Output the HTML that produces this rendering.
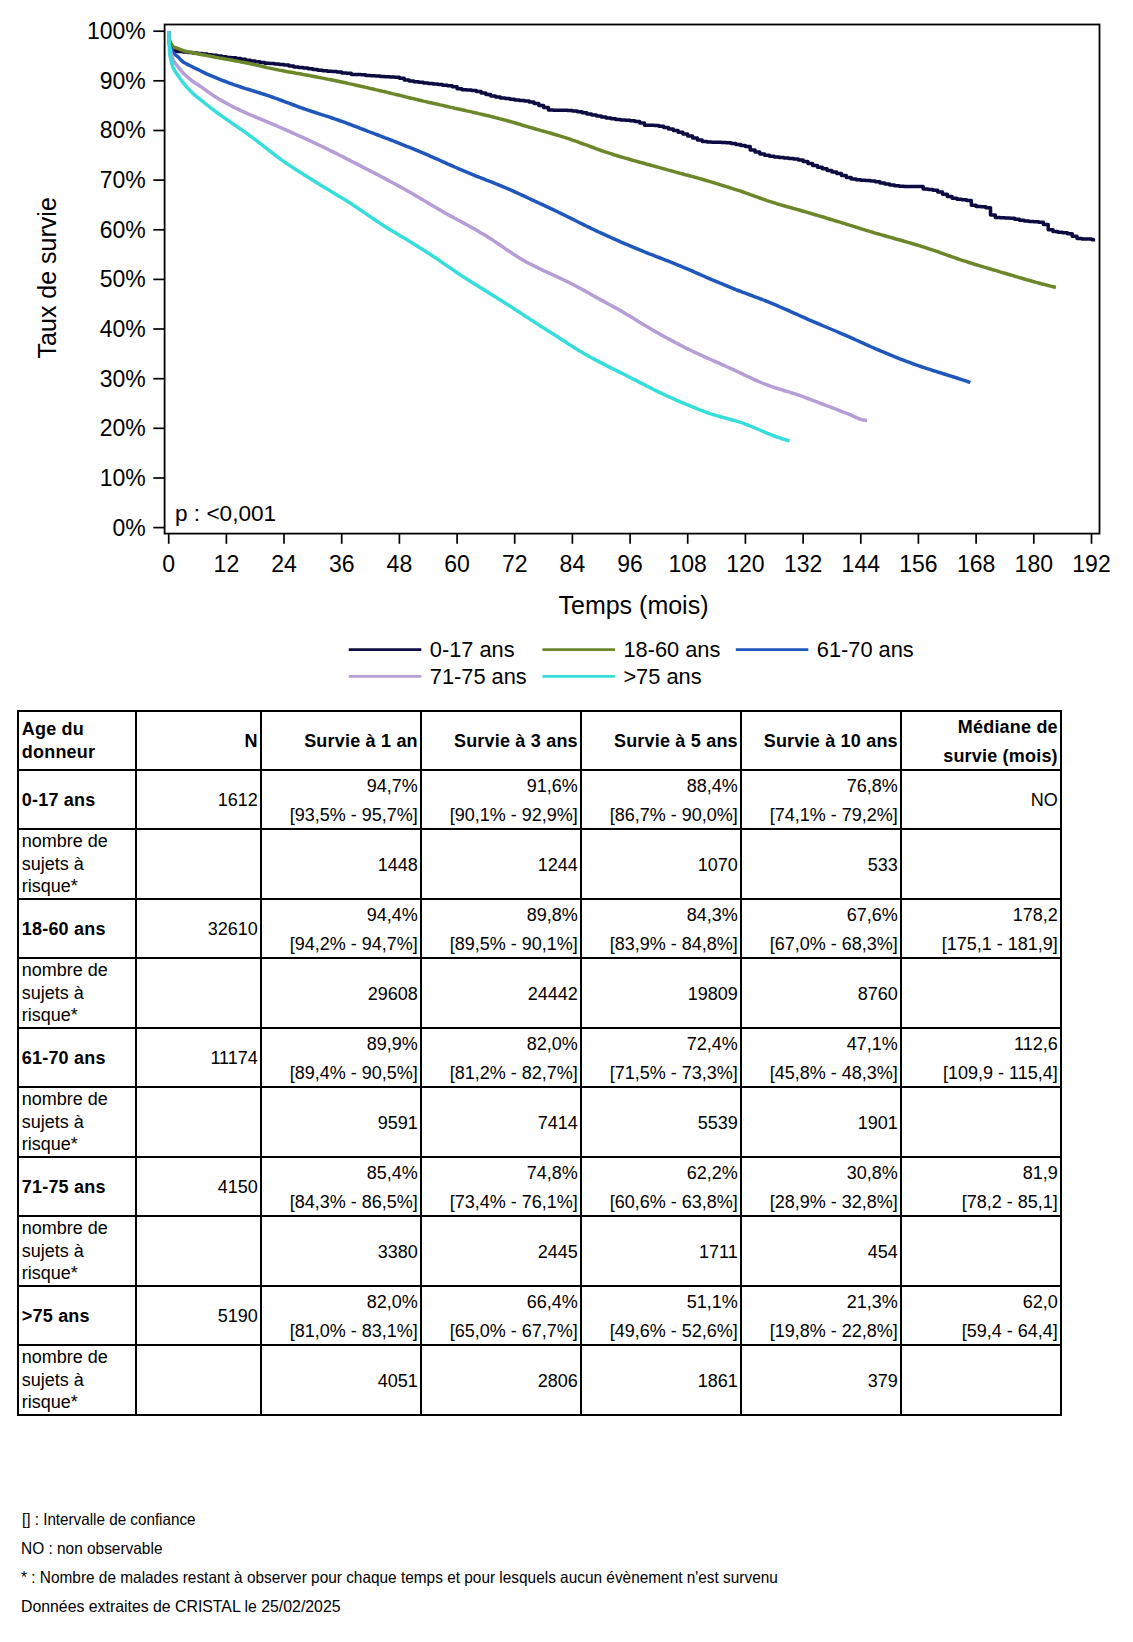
<!DOCTYPE html>
<html lang="fr"><head><meta charset="utf-8"><title>Survie</title>
<style>
*{margin:0;padding:0;box-sizing:border-box}
html,body{width:1133px;height:1642px;background:#fff;overflow:hidden}
body{position:relative;font-family:"Liberation Sans",Arial,Helvetica,sans-serif;color:#000}
.chart{position:absolute;left:0;top:0}
.chart text{font-family:"Liberation Sans",Arial,sans-serif;fill:#000}
.tl{font-size:23px}
.at{font-size:25px}
.lg{font-size:21.8px}
table{position:absolute;left:17px;top:710px;border-collapse:collapse;table-layout:fixed;width:1045px;font-size:18px}
th,td{border:2px solid #000;padding:0 2.2px 0 2.8px;vertical-align:middle;white-space:nowrap;line-height:20px;overflow:visible}
th,.b{font-weight:bold;letter-spacing:0.2px}
.r{text-align:right}
.c0{text-align:left}
.b{font-weight:bold}
tr.hd{height:59px}
tr.dr{height:59px}
tr.rr{height:70px}
.v2{height:57px;display:flex;flex-direction:column;justify-content:center;align-items:flex-end;line-height:29px;position:relative;top:1.5px}
.agel{line-height:23.2px;position:relative;top:0.8px}
td.top{vertical-align:top}
tr.rr td.r{padding-top:2px}
.risk{line-height:22.6px;height:66px}
.notes{position:absolute;left:0;top:0;font-size:16.5px;line-height:19px;color:#000}
.nl{position:absolute;white-space:nowrap;transform-origin:0 0}
</style></head>
<body>
<svg class="chart" width="1133" height="700" viewBox="0 0 1133 700">
<path d="M168.7,31.2L168.9,37.1L169.3,42.1L169.7,45.1L170.1,47.1L170.9,48.3L171.6,49.2L172.5,49.9L173.5,50.4H174.7V50.8H175.9V51.2H177.1V51.4H178.3V51.6H183.1V52.0H187.9V52.5H192.7V53.0H197.5V53.6H202.3V54.1H207.1V54.7H212.0V55.3H216.8V56.0H221.6V56.7H226.4V57.5H231.2V57.7H236.0V58.4H240.8V59.3H245.6V60.2H250.4V61.1H255.2V61.8H260.0V62.5H264.8V63.2H269.6V63.6H274.4V64.1H279.2V64.5H284.0V65.1H288.9V66.1H293.7V67.0H298.5V67.4H303.3V68.0H308.1V68.8H312.9V69.5H317.7V70.2H322.5V70.7H327.3V71.2H332.1V71.6H336.9V72.1H341.7V72.9H346.5V73.2H351.3V74.5H356.1V74.4H360.9V74.8H365.7V75.4H370.6V75.7H375.4V76.1H380.2V76.4H385.0V76.7H389.8V77.0H394.6V77.3H399.4V78.3H404.2V80.1H409.0V81.0H413.8V81.7H418.6V82.3H423.4V82.9H428.2V83.5H433.0V84.0H437.8V84.6H442.6V85.2H447.4V85.8H452.3V86.7H457.1V88.8H461.9V89.7H466.7V90.1H471.5V90.6H476.3V91.6H481.1V93.1H485.9V94.6H490.7V96.1H495.5V97.1H500.3V97.9H505.1V98.6H509.9V99.3H514.7V99.9H519.5V100.4H524.3V101.1H529.1V102.1H534.0V103.6H538.8V105.4H543.6V107.4H548.4V110.0H553.2V110.2H558.0V110.2H562.8V110.3H567.6V110.4H572.4V110.9H577.2V111.7H582.0V112.8H586.8V113.9H591.6V115.0H596.4V116.0H601.2V117.0H606.0V118.0H610.9V118.8H615.7V119.4H620.5V119.9H625.3V120.3H630.1V120.8H634.9V121.5H639.7V122.9H644.5V125.2H649.3V125.3H654.1V125.5H658.9V126.2H663.7V127.5H668.5V129.1H673.3V130.6H678.1V132.3H682.9V134.0H687.7V135.9H692.6V138.1H697.4V140.1H702.2V141.5H707.0V142.0H711.8V142.2H716.6V142.3H721.4V142.4H726.2V142.7H731.0V143.5H735.8V144.5H740.6V145.5H745.4V146.4H750.2V149.9H755.0V152.1H759.8V153.9H764.6V155.3H769.5V156.3H774.3V157.1H779.1V157.6H783.9V158.1H788.7V158.5H793.5V159.0H798.3V159.9H803.1V161.4H807.9V163.4H812.7V165.4H817.5V167.2H822.3V168.8H827.1V170.4H831.9V172.0H836.7V173.6H841.5V175.5H846.3V177.4H851.2V178.9H856.0V179.8H860.8V180.2H865.6V180.6H870.4V181.1H875.2V181.8H880.0V182.9H884.8V184.0H889.6V185.1H894.4V185.8H899.2V186.2H904.0V186.4H908.8V186.5H913.6V186.5H918.4V186.5H923.2V188.9H928.0V189.5H932.9V190.3H937.7V192.1H942.5V194.3H947.3V196.6H952.1V198.3H956.9V199.3H961.7V199.7H966.5V200.4H971.3V205.2H976.1V206.4H980.9V206.8H985.7V207.7H990.5V214.9H995.3V217.6H1000.1V217.8H1004.9V218.0H1009.8V218.3H1014.6V219.2H1019.4V220.2H1024.2V221.0H1029.0V221.5H1033.8V221.8H1038.6V222.3H1043.4V224.6H1048.2V229.8H1053.0V231.5H1057.8V232.2H1062.6V232.8H1067.4V233.7H1072.2V236.3H1077.0V238.6H1081.8V238.9H1086.6V239.0H1091.5V239.4H1093.4V241.6" fill="none" stroke="#0d0b42" stroke-width="3.5" stroke-linejoin="round" stroke-linecap="butt"/>
<path d="M168.7,31.2L169.2,38.1L169.7,40.3L170.1,41.6L170.6,42.7L171.1,43.6L171.6,44.4L172.1,45.3L172.5,46.1L173.0,46.6L173.5,46.9L174.0,47.2L174.5,47.4L174.9,47.5L175.4,47.7L175.9,47.8L176.4,47.9L176.9,48.1L177.4,48.2L177.8,48.4L178.3,48.6L180.7,49.6L183.1,50.5L185.5,51.2L187.9,51.8L190.3,52.3L192.7,52.8L195.1,53.2L197.5,53.7L199.9,54.2L202.3,54.7L204.7,55.1L207.1,55.6L209.6,56.1L212.0,56.5L214.4,57.0L216.8,57.4L219.2,57.9L221.6,58.3L224.0,58.7L226.4,59.2L228.8,59.6L231.2,60.0L233.6,60.5L236.0,60.9L238.4,61.4L240.8,61.9L243.2,62.3L245.6,62.8L248.0,63.3L250.4,63.8L252.8,64.3L255.2,64.9L257.6,65.4L260.0,65.9L262.4,66.5L264.8,67.0L267.2,67.6L269.6,68.1L272.0,68.6L274.4,69.1L276.8,69.6L279.2,70.1L281.6,70.6L284.0,71.0L286.4,71.5L288.9,71.9L291.3,72.3L293.7,72.7L296.1,73.2L298.5,73.6L300.9,74.0L303.3,74.5L305.7,74.9L308.1,75.3L310.5,75.8L312.9,76.2L315.3,76.7L317.7,77.2L320.1,77.6L322.5,78.1L324.9,78.6L327.3,79.1L329.7,79.6L332.1,80.0L334.5,80.5L336.9,81.0L339.3,81.5L341.7,82.0L344.1,82.5L346.5,83.0L348.9,83.6L351.3,84.1L353.7,84.6L356.1,85.2L358.5,85.7L360.9,86.3L363.3,86.8L365.7,87.4L368.1,87.9L370.6,88.5L373.0,89.0L375.4,89.6L377.8,90.1L380.2,90.7L382.6,91.3L385.0,91.8L387.4,92.4L389.8,93.0L392.2,93.6L394.6,94.1L397.0,94.7L399.4,95.3L401.8,95.9L404.2,96.5L406.6,97.1L409.0,97.7L411.4,98.3L413.8,98.8L416.2,99.4L418.6,100.0L421.0,100.5L423.4,101.1L425.8,101.6L428.2,102.2L430.6,102.7L433.0,103.3L435.4,103.8L437.8,104.3L440.2,104.9L442.6,105.4L445.0,106.0L447.4,106.5L449.9,107.1L452.3,107.6L454.7,108.2L457.1,108.7L459.5,109.2L461.9,109.8L464.3,110.3L466.7,110.9L469.1,111.4L471.5,111.9L473.9,112.5L476.3,113.0L478.7,113.6L481.1,114.1L483.5,114.7L485.9,115.3L488.3,115.8L490.7,116.4L493.1,117.0L495.5,117.6L497.9,118.2L500.3,118.9L502.7,119.5L505.1,120.1L507.5,120.8L509.9,121.5L512.3,122.1L514.7,122.8L517.1,123.5L519.5,124.2L521.9,125.0L524.3,125.7L526.7,126.4L529.1,127.1L531.6,127.8L534.0,128.5L536.4,129.2L538.8,129.9L541.2,130.6L543.6,131.3L546.0,131.9L548.4,132.6L550.8,133.3L553.2,134.0L555.6,134.7L558.0,135.4L560.4,136.1L562.8,136.9L565.2,137.6L567.6,138.4L570.0,139.2L572.4,140.1L574.8,140.9L577.2,141.7L579.6,142.6L582.0,143.5L584.4,144.4L586.8,145.2L589.2,146.1L591.6,147.0L594.0,147.9L596.4,148.8L598.8,149.6L601.2,150.5L603.6,151.3L606.0,152.1L608.4,152.9L610.9,153.7L613.3,154.5L615.7,155.3L618.1,156.0L620.5,156.7L622.9,157.4L625.3,158.1L627.7,158.8L630.1,159.5L632.5,160.2L634.9,160.9L637.3,161.5L639.7,162.2L642.1,162.8L644.5,163.5L646.9,164.2L649.3,164.8L651.7,165.5L654.1,166.1L656.5,166.8L658.9,167.4L661.3,168.1L663.7,168.8L666.1,169.4L668.5,170.1L670.9,170.7L673.3,171.4L675.7,172.1L678.1,172.7L680.5,173.4L682.9,174.0L685.3,174.7L687.7,175.3L690.2,176.0L692.6,176.6L695.0,177.3L697.4,177.9L699.8,178.6L702.2,179.3L704.6,180.0L707.0,180.7L709.4,181.4L711.8,182.1L714.2,182.8L716.6,183.6L719.0,184.3L721.4,185.1L723.8,185.8L726.2,186.6L728.6,187.3L731.0,188.1L733.4,188.9L735.8,189.6L738.2,190.4L740.6,191.2L743.0,192.0L745.4,192.9L747.8,193.7L750.2,194.6L752.6,195.4L755.0,196.3L757.4,197.2L759.8,198.0L762.2,198.9L764.6,199.7L767.0,200.6L769.5,201.4L771.9,202.1L774.3,202.9L776.7,203.7L779.1,204.4L781.5,205.1L783.9,205.8L786.3,206.5L788.7,207.1L791.1,207.8L793.5,208.5L795.9,209.1L798.3,209.8L800.7,210.5L803.1,211.2L805.5,211.9L807.9,212.6L810.3,213.3L812.7,214.0L815.1,214.7L817.5,215.4L819.9,216.1L822.3,216.8L824.7,217.5L827.1,218.3L829.5,219.0L831.9,219.7L834.3,220.5L836.7,221.2L839.1,221.9L841.5,222.7L843.9,223.4L846.3,224.2L848.7,224.9L851.2,225.6L853.6,226.4L856.0,227.2L858.4,227.9L860.8,228.7L863.2,229.4L865.6,230.2L868.0,230.9L870.4,231.6L872.8,232.3L875.2,233.1L877.6,233.8L880.0,234.4L882.4,235.1L884.8,235.8L887.2,236.5L889.6,237.1L892.0,237.8L894.4,238.5L896.8,239.2L899.2,239.8L901.6,240.5L904.0,241.2L906.4,241.9L908.8,242.6L911.2,243.3L913.6,244.0L916.0,244.7L918.4,245.4L920.8,246.2L923.2,246.9L925.6,247.7L928.0,248.5L930.5,249.3L932.9,250.1L935.3,250.9L937.7,251.7L940.1,252.6L942.5,253.4L944.9,254.3L947.3,255.1L949.7,256.0L952.1,256.9L954.5,257.7L956.9,258.5L959.3,259.4L961.7,260.2L964.1,260.9L966.5,261.7L968.9,262.5L971.3,263.2L973.7,264.0L976.1,264.7L978.5,265.4L980.9,266.2L983.3,266.9L985.7,267.6L988.1,268.3L990.5,269.0L992.9,269.7L995.3,270.4L997.7,271.1L1000.1,271.9L1002.5,272.6L1004.9,273.3L1007.3,274.0L1009.8,274.7L1012.2,275.4L1014.6,276.2L1017.0,276.9L1019.4,277.6L1021.8,278.3L1024.2,279.0L1026.6,279.7L1029.0,280.3L1031.4,281.0L1033.8,281.7L1036.2,282.4L1038.6,283.0L1041.0,283.7L1043.4,284.3L1045.8,284.9L1048.2,285.5L1050.6,286.1L1053.0,286.7L1055.4,287.3L1055.9,287.4" fill="none" stroke="#6b872a" stroke-width="3.5" stroke-linejoin="round" stroke-linecap="butt"/>
<path d="M168.7,31.2L169.2,40.1L169.7,43.9L170.1,46.1L170.6,47.2L171.1,48.0L171.6,48.8L172.1,50.0L172.5,51.4L173.0,52.3L173.5,53.0L174.0,53.6L174.5,54.0L174.9,54.5L175.4,54.8L175.9,55.2L176.4,55.6L176.9,55.9L177.4,56.3L177.8,56.8L178.3,57.2L180.7,59.9L183.1,61.9L185.5,63.3L187.9,64.6L190.3,65.8L192.7,67.0L195.1,68.2L197.5,69.3L199.9,70.5L202.3,71.7L204.7,72.9L207.1,74.1L209.6,75.2L212.0,76.2L214.4,77.2L216.8,78.2L219.2,79.2L221.6,80.1L224.0,81.0L226.4,81.9L228.8,82.8L231.2,83.7L233.6,84.6L236.0,85.4L238.4,86.2L240.8,87.0L243.2,87.8L245.6,88.6L248.0,89.3L250.4,90.0L252.8,90.8L255.2,91.5L257.6,92.3L260.0,93.0L262.4,93.8L264.8,94.5L267.2,95.3L269.6,96.2L272.0,97.0L274.4,97.9L276.8,98.7L279.2,99.6L281.6,100.5L284.0,101.4L286.4,102.3L288.9,103.2L291.3,104.1L293.7,105.0L296.1,105.9L298.5,106.8L300.9,107.7L303.3,108.5L305.7,109.3L308.1,110.2L310.5,111.0L312.9,111.8L315.3,112.5L317.7,113.3L320.1,114.1L322.5,114.9L324.9,115.6L327.3,116.4L329.7,117.2L332.1,118.0L334.5,118.8L336.9,119.6L339.3,120.5L341.7,121.3L344.1,122.2L346.5,123.1L348.9,124.0L351.3,124.9L353.7,125.8L356.1,126.7L358.5,127.6L360.9,128.6L363.3,129.5L365.7,130.4L368.1,131.4L370.6,132.3L373.0,133.2L375.4,134.1L377.8,135.0L380.2,135.9L382.6,136.8L385.0,137.8L387.4,138.7L389.8,139.6L392.2,140.5L394.6,141.5L397.0,142.4L399.4,143.4L401.8,144.3L404.2,145.3L406.6,146.3L409.0,147.2L411.4,148.2L413.8,149.2L416.2,150.2L418.6,151.2L421.0,152.2L423.4,153.2L425.8,154.2L428.2,155.2L430.6,156.3L433.0,157.3L435.4,158.4L437.8,159.4L440.2,160.5L442.6,161.6L445.0,162.7L447.4,163.8L449.9,164.8L452.3,165.9L454.7,167.0L457.1,168.0L459.5,169.1L461.9,170.1L464.3,171.1L466.7,172.1L469.1,173.1L471.5,174.1L473.9,175.1L476.3,176.1L478.7,177.0L481.1,178.0L483.5,178.9L485.9,179.9L488.3,180.8L490.7,181.7L493.1,182.7L495.5,183.7L497.9,184.6L500.3,185.6L502.7,186.6L505.1,187.6L507.5,188.6L509.9,189.6L512.3,190.7L514.7,191.8L517.1,192.9L519.5,194.0L521.9,195.1L524.3,196.2L526.7,197.3L529.1,198.5L531.6,199.6L534.0,200.7L536.4,201.9L538.8,203.0L541.2,204.1L543.6,205.2L546.0,206.3L548.4,207.4L550.8,208.6L553.2,209.7L555.6,210.8L558.0,212.0L560.4,213.2L562.8,214.3L565.2,215.5L567.6,216.7L570.0,217.9L572.4,219.1L574.8,220.3L577.2,221.5L579.6,222.7L582.0,223.9L584.4,225.1L586.8,226.3L589.2,227.4L591.6,228.6L594.0,229.7L596.4,230.9L598.8,232.0L601.2,233.1L603.6,234.2L606.0,235.3L608.4,236.4L610.9,237.5L613.3,238.6L615.7,239.7L618.1,240.7L620.5,241.8L622.9,242.8L625.3,243.9L627.7,244.9L630.1,245.9L632.5,246.9L634.9,247.9L637.3,248.9L639.7,249.9L642.1,250.9L644.5,251.9L646.9,252.8L649.3,253.8L651.7,254.7L654.1,255.6L656.5,256.6L658.9,257.5L661.3,258.4L663.7,259.4L666.1,260.3L668.5,261.2L670.9,262.2L673.3,263.1L675.7,264.1L678.1,265.1L680.5,266.0L682.9,267.1L685.3,268.1L687.7,269.1L690.2,270.1L692.6,271.2L695.0,272.3L697.4,273.3L699.8,274.4L702.2,275.5L704.6,276.5L707.0,277.6L709.4,278.6L711.8,279.7L714.2,280.7L716.6,281.7L719.0,282.7L721.4,283.7L723.8,284.7L726.2,285.7L728.6,286.7L731.0,287.7L733.4,288.6L735.8,289.6L738.2,290.5L740.6,291.4L743.0,292.3L745.4,293.2L747.8,294.1L750.2,295.0L752.6,295.9L755.0,296.8L757.4,297.7L759.8,298.6L762.2,299.5L764.6,300.5L767.0,301.4L769.5,302.4L771.9,303.4L774.3,304.4L776.7,305.4L779.1,306.5L781.5,307.5L783.9,308.6L786.3,309.6L788.7,310.7L791.1,311.8L793.5,312.9L795.9,313.9L798.3,315.0L800.7,316.1L803.1,317.1L805.5,318.2L807.9,319.3L810.3,320.3L812.7,321.3L815.1,322.4L817.5,323.4L819.9,324.4L822.3,325.5L824.7,326.5L827.1,327.5L829.5,328.5L831.9,329.5L834.3,330.5L836.7,331.5L839.1,332.6L841.5,333.6L843.9,334.6L846.3,335.7L848.7,336.7L851.2,337.8L853.6,338.9L856.0,340.0L858.4,341.0L860.8,342.1L863.2,343.2L865.6,344.3L868.0,345.4L870.4,346.5L872.8,347.5L875.2,348.6L877.6,349.6L880.0,350.7L882.4,351.7L884.8,352.7L887.2,353.7L889.6,354.7L892.0,355.7L894.4,356.7L896.8,357.6L899.2,358.6L901.6,359.5L904.0,360.4L906.4,361.3L908.8,362.2L911.2,363.1L913.6,364.0L916.0,364.8L918.4,365.7L920.8,366.5L923.2,367.3L925.6,368.1L928.0,368.9L930.5,369.7L932.9,370.5L935.3,371.2L937.7,372.0L940.1,372.7L942.5,373.5L944.9,374.2L947.3,375.0L949.7,375.7L952.1,376.5L954.5,377.2L956.9,378.0L959.3,378.8L961.7,379.6L964.1,380.4L966.5,381.2L968.9,382.0L970.3,382.6" fill="none" stroke="#1f57bd" stroke-width="3.5" stroke-linejoin="round" stroke-linecap="butt"/>
<path d="M168.7,31.2L169.2,43.6L169.7,47.1L170.1,49.2L170.6,51.1L171.1,53.2L171.6,55.3L172.1,57.2L172.5,58.6L173.0,59.6L173.5,60.6L174.0,61.4L174.5,62.2L174.9,62.9L175.4,63.5L175.9,64.1L176.4,64.7L176.9,65.3L177.4,65.9L177.8,66.5L178.3,67.1L180.7,70.1L183.1,72.8L185.5,75.3L187.9,77.4L190.3,79.3L192.7,81.3L195.1,83.0L197.5,84.5L199.9,86.0L202.3,87.6L204.7,89.4L207.1,91.2L209.6,92.9L212.0,94.6L214.4,96.2L216.8,97.7L219.2,99.2L221.6,100.6L224.0,101.9L226.4,103.2L228.8,104.5L231.2,105.8L233.6,107.1L236.0,108.3L238.4,109.4L240.8,110.6L243.2,111.7L245.6,112.7L248.0,113.8L250.4,114.8L252.8,115.8L255.2,116.8L257.6,117.8L260.0,118.8L262.4,119.8L264.8,120.8L267.2,121.8L269.6,122.9L272.0,123.9L274.4,124.9L276.8,125.9L279.2,127.0L281.6,128.0L284.0,129.1L286.4,130.1L288.9,131.2L291.3,132.3L293.7,133.4L296.1,134.5L298.5,135.6L300.9,136.6L303.3,137.7L305.7,138.8L308.1,139.9L310.5,141.0L312.9,142.2L315.3,143.3L317.7,144.4L320.1,145.5L322.5,146.7L324.9,147.8L327.3,149.0L329.7,150.2L332.1,151.4L334.5,152.6L336.9,153.8L339.3,155.0L341.7,156.2L344.1,157.4L346.5,158.7L348.9,159.9L351.3,161.2L353.7,162.4L356.1,163.6L358.5,164.9L360.9,166.1L363.3,167.4L365.7,168.6L368.1,169.8L370.6,171.1L373.0,172.3L375.4,173.6L377.8,174.8L380.2,176.1L382.6,177.3L385.0,178.6L387.4,179.9L389.8,181.2L392.2,182.5L394.6,183.7L397.0,185.1L399.4,186.4L401.8,187.7L404.2,189.0L406.6,190.4L409.0,191.7L411.4,193.1L413.8,194.5L416.2,195.9L418.6,197.3L421.0,198.7L423.4,200.2L425.8,201.6L428.2,203.0L430.6,204.5L433.0,205.9L435.4,207.3L437.8,208.7L440.2,210.1L442.6,211.5L445.0,212.9L447.4,214.3L449.9,215.6L452.3,216.9L454.7,218.2L457.1,219.6L459.5,220.8L461.9,222.1L464.3,223.4L466.7,224.7L469.1,226.0L471.5,227.4L473.9,228.7L476.3,230.1L478.7,231.4L481.1,232.9L483.5,234.3L485.9,235.8L488.3,237.3L490.7,238.8L493.1,240.4L495.5,242.0L497.9,243.6L500.3,245.3L502.7,246.9L505.1,248.6L507.5,250.2L509.9,251.8L512.3,253.4L514.7,255.0L517.1,256.5L519.5,258.0L521.9,259.4L524.3,260.8L526.7,262.2L529.1,263.5L531.6,264.7L534.0,265.9L536.4,267.1L538.8,268.3L541.2,269.4L543.6,270.6L546.0,271.7L548.4,272.8L550.8,273.9L553.2,275.0L555.6,276.1L558.0,277.2L560.4,278.4L562.8,279.5L565.2,280.7L567.6,281.8L570.0,283.0L572.4,284.2L574.8,285.5L577.2,286.7L579.6,288.0L582.0,289.3L584.4,290.6L586.8,292.0L589.2,293.3L591.6,294.7L594.0,296.1L596.4,297.4L598.8,298.8L601.2,300.1L603.6,301.4L606.0,302.7L608.4,304.0L610.9,305.3L613.3,306.6L615.7,307.9L618.1,309.3L620.5,310.6L622.9,312.0L625.3,313.4L627.7,314.9L630.1,316.3L632.5,317.8L634.9,319.2L637.3,320.7L639.7,322.2L642.1,323.7L644.5,325.2L646.9,326.6L649.3,328.0L651.7,329.4L654.1,330.8L656.5,332.2L658.9,333.5L661.3,334.9L663.7,336.2L666.1,337.5L668.5,338.8L670.9,340.1L673.3,341.4L675.7,342.7L678.1,343.9L680.5,345.2L682.9,346.4L685.3,347.7L687.7,348.9L690.2,350.0L692.6,351.2L695.0,352.4L697.4,353.5L699.8,354.6L702.2,355.7L704.6,356.8L707.0,357.9L709.4,359.0L711.8,360.0L714.2,361.1L716.6,362.2L719.0,363.2L721.4,364.3L723.8,365.4L726.2,366.5L728.6,367.5L731.0,368.6L733.4,369.7L735.8,370.8L738.2,372.0L740.6,373.1L743.0,374.2L745.4,375.4L747.8,376.5L750.2,377.6L752.6,378.8L755.0,379.9L757.4,380.9L759.8,382.0L762.2,383.0L764.6,384.0L767.0,384.9L769.5,385.8L771.9,386.7L774.3,387.5L776.7,388.2L779.1,389.0L781.5,389.7L783.9,390.5L786.3,391.2L788.7,391.9L791.1,392.7L793.5,393.4L795.9,394.2L798.3,395.0L800.7,395.8L803.1,396.7L805.5,397.6L807.9,398.5L810.3,399.4L812.7,400.3L815.1,401.2L817.5,402.1L819.9,403.1L822.3,404.0L824.7,404.9L827.1,405.8L829.5,406.7L831.9,407.6L834.3,408.5L836.7,409.5L839.1,410.4L841.5,411.4L843.9,412.3L846.3,413.2L848.7,414.2L851.2,415.2L853.6,416.3L856.0,417.4L858.4,418.5L860.8,419.4L863.2,420.1L865.6,420.3L867.0,420.4" fill="none" stroke="#b79dd6" stroke-width="3.5" stroke-linejoin="round" stroke-linecap="butt"/>
<path d="M168.7,31.2L169.2,43.6L169.7,53.0L170.1,56.3L170.6,58.5L171.1,60.7L171.6,62.7L172.1,64.5L172.5,66.1L173.0,67.4L173.5,68.5L174.0,69.4L174.5,70.3L174.9,71.1L175.4,71.9L175.9,72.6L176.4,73.3L176.9,73.9L177.4,74.6L177.8,75.3L178.3,76.1L180.7,79.5L183.1,82.7L185.5,85.7L187.9,88.3L190.3,90.7L192.7,93.2L195.1,95.4L197.5,97.3L199.9,99.2L202.3,101.2L204.7,103.1L207.1,105.0L209.6,106.9L212.0,108.8L214.4,110.7L216.8,112.5L219.2,114.2L221.6,115.9L224.0,117.6L226.4,119.2L228.8,120.9L231.2,122.6L233.6,124.3L236.0,125.9L238.4,127.6L240.8,129.3L243.2,130.9L245.6,132.6L248.0,134.3L250.4,136.1L252.8,137.8L255.2,139.6L257.6,141.5L260.0,143.3L262.4,145.2L264.8,147.1L267.2,148.9L269.6,150.8L272.0,152.7L274.4,154.5L276.8,156.3L279.2,158.1L281.6,159.9L284.0,161.6L286.4,163.3L288.9,164.9L291.3,166.5L293.7,168.1L296.1,169.7L298.5,171.2L300.9,172.8L303.3,174.3L305.7,175.8L308.1,177.3L310.5,178.8L312.9,180.3L315.3,181.8L317.7,183.3L320.1,184.8L322.5,186.2L324.9,187.7L327.3,189.1L329.7,190.6L332.1,192.0L334.5,193.5L336.9,194.9L339.3,196.4L341.7,197.8L344.1,199.3L346.5,200.8L348.9,202.3L351.3,203.8L353.7,205.4L356.1,207.0L358.5,208.6L360.9,210.3L363.3,211.9L365.7,213.6L368.1,215.2L370.6,216.9L373.0,218.5L375.4,220.2L377.8,221.8L380.2,223.4L382.6,224.9L385.0,226.4L387.4,227.9L389.8,229.4L392.2,230.9L394.6,232.3L397.0,233.8L399.4,235.2L401.8,236.7L404.2,238.1L406.6,239.6L409.0,241.0L411.4,242.5L413.8,243.9L416.2,245.4L418.6,246.9L421.0,248.4L423.4,249.9L425.8,251.5L428.2,253.0L430.6,254.6L433.0,256.2L435.4,257.8L437.8,259.4L440.2,261.1L442.6,262.7L445.0,264.4L447.4,266.1L449.9,267.7L452.3,269.4L454.7,271.0L457.1,272.7L459.5,274.3L461.9,275.9L464.3,277.4L466.7,279.0L469.1,280.5L471.5,282.0L473.9,283.5L476.3,285.0L478.7,286.5L481.1,288.0L483.5,289.5L485.9,291.0L488.3,292.5L490.7,294.0L493.1,295.5L495.5,297.0L497.9,298.5L500.3,300.0L502.7,301.5L505.1,303.0L507.5,304.6L509.9,306.1L512.3,307.6L514.7,309.2L517.1,310.7L519.5,312.3L521.9,313.9L524.3,315.5L526.7,317.1L529.1,318.6L531.6,320.2L534.0,321.8L536.4,323.3L538.8,324.9L541.2,326.4L543.6,327.9L546.0,329.5L548.4,331.0L550.8,332.5L553.2,334.0L555.6,335.6L558.0,337.1L560.4,338.7L562.8,340.3L565.2,341.8L567.6,343.4L570.0,344.9L572.4,346.5L574.8,348.0L577.2,349.4L579.6,350.9L582.0,352.3L584.4,353.7L586.8,355.1L589.2,356.5L591.6,357.8L594.0,359.1L596.4,360.4L598.8,361.6L601.2,362.9L603.6,364.1L606.0,365.4L608.4,366.6L610.9,367.8L613.3,369.0L615.7,370.2L618.1,371.4L620.5,372.6L622.9,373.8L625.3,375.0L627.7,376.2L630.1,377.5L632.5,378.7L634.9,379.9L637.3,381.1L639.7,382.4L642.1,383.6L644.5,384.8L646.9,386.1L649.3,387.3L651.7,388.5L654.1,389.7L656.5,390.9L658.9,392.1L661.3,393.2L663.7,394.4L666.1,395.5L668.5,396.6L670.9,397.7L673.3,398.7L675.7,399.8L678.1,400.8L680.5,401.8L682.9,402.8L685.3,403.8L687.7,404.9L690.2,405.9L692.6,406.9L695.0,407.9L697.4,408.8L699.8,409.8L702.2,410.7L704.6,411.7L707.0,412.5L709.4,413.4L711.8,414.2L714.2,414.9L716.6,415.6L719.0,416.3L721.4,417.0L723.8,417.6L726.2,418.2L728.6,418.9L731.0,419.5L733.4,420.2L735.8,420.9L738.2,421.6L740.6,422.4L743.0,423.2L745.4,424.1L747.8,425.0L750.2,426.0L752.6,427.0L755.0,428.0L757.4,429.0L759.8,430.0L762.2,431.0L764.6,432.1L767.0,433.2L769.5,434.2L771.9,435.2L774.3,436.0L776.7,436.9L779.1,437.7L781.5,438.5L783.9,439.3L786.3,440.0L788.7,440.6L789.6,440.9" fill="none" stroke="#36dedb" stroke-width="3.5" stroke-linejoin="round" stroke-linecap="butt"/>
<rect x="164.6" y="24.5" width="934.9" height="509.1" fill="none" stroke="#000" stroke-width="1.8"/>
<line x1="153.3" y1="527.6" x2="164.6" y2="527.6" stroke="#000" stroke-width="1.7"/>
<text x="145.8" y="535.5" text-anchor="end" class="tl">0%</text>
<line x1="153.3" y1="478.0" x2="164.6" y2="478.0" stroke="#000" stroke-width="1.7"/>
<text x="145.8" y="485.9" text-anchor="end" class="tl">10%</text>
<line x1="153.3" y1="428.3" x2="164.6" y2="428.3" stroke="#000" stroke-width="1.7"/>
<text x="145.8" y="436.2" text-anchor="end" class="tl">20%</text>
<line x1="153.3" y1="378.7" x2="164.6" y2="378.7" stroke="#000" stroke-width="1.7"/>
<text x="145.8" y="386.6" text-anchor="end" class="tl">30%</text>
<line x1="153.3" y1="329.0" x2="164.6" y2="329.0" stroke="#000" stroke-width="1.7"/>
<text x="145.8" y="336.9" text-anchor="end" class="tl">40%</text>
<line x1="153.3" y1="279.4" x2="164.6" y2="279.4" stroke="#000" stroke-width="1.7"/>
<text x="145.8" y="287.3" text-anchor="end" class="tl">50%</text>
<line x1="153.3" y1="229.8" x2="164.6" y2="229.8" stroke="#000" stroke-width="1.7"/>
<text x="145.8" y="237.7" text-anchor="end" class="tl">60%</text>
<line x1="153.3" y1="180.1" x2="164.6" y2="180.1" stroke="#000" stroke-width="1.7"/>
<text x="145.8" y="188.0" text-anchor="end" class="tl">70%</text>
<line x1="153.3" y1="130.5" x2="164.6" y2="130.5" stroke="#000" stroke-width="1.7"/>
<text x="145.8" y="138.4" text-anchor="end" class="tl">80%</text>
<line x1="153.3" y1="80.8" x2="164.6" y2="80.8" stroke="#000" stroke-width="1.7"/>
<text x="145.8" y="88.7" text-anchor="end" class="tl">90%</text>
<line x1="153.3" y1="31.2" x2="164.6" y2="31.2" stroke="#000" stroke-width="1.7"/>
<text x="145.8" y="39.1" text-anchor="end" class="tl">100%</text>
<line x1="168.7" y1="533.6" x2="168.7" y2="543.8" stroke="#000" stroke-width="1.7"/>
<text x="168.7" y="572" text-anchor="middle" class="tl">0</text>
<line x1="226.4" y1="533.6" x2="226.4" y2="543.8" stroke="#000" stroke-width="1.7"/>
<text x="226.4" y="572" text-anchor="middle" class="tl">12</text>
<line x1="284.0" y1="533.6" x2="284.0" y2="543.8" stroke="#000" stroke-width="1.7"/>
<text x="284.0" y="572" text-anchor="middle" class="tl">24</text>
<line x1="341.7" y1="533.6" x2="341.7" y2="543.8" stroke="#000" stroke-width="1.7"/>
<text x="341.7" y="572" text-anchor="middle" class="tl">36</text>
<line x1="399.4" y1="533.6" x2="399.4" y2="543.8" stroke="#000" stroke-width="1.7"/>
<text x="399.4" y="572" text-anchor="middle" class="tl">48</text>
<line x1="457.1" y1="533.6" x2="457.1" y2="543.8" stroke="#000" stroke-width="1.7"/>
<text x="457.1" y="572" text-anchor="middle" class="tl">60</text>
<line x1="514.7" y1="533.6" x2="514.7" y2="543.8" stroke="#000" stroke-width="1.7"/>
<text x="514.7" y="572" text-anchor="middle" class="tl">72</text>
<line x1="572.4" y1="533.6" x2="572.4" y2="543.8" stroke="#000" stroke-width="1.7"/>
<text x="572.4" y="572" text-anchor="middle" class="tl">84</text>
<line x1="630.1" y1="533.6" x2="630.1" y2="543.8" stroke="#000" stroke-width="1.7"/>
<text x="630.1" y="572" text-anchor="middle" class="tl">96</text>
<line x1="687.7" y1="533.6" x2="687.7" y2="543.8" stroke="#000" stroke-width="1.7"/>
<text x="687.7" y="572" text-anchor="middle" class="tl">108</text>
<line x1="745.4" y1="533.6" x2="745.4" y2="543.8" stroke="#000" stroke-width="1.7"/>
<text x="745.4" y="572" text-anchor="middle" class="tl">120</text>
<line x1="803.1" y1="533.6" x2="803.1" y2="543.8" stroke="#000" stroke-width="1.7"/>
<text x="803.1" y="572" text-anchor="middle" class="tl">132</text>
<line x1="860.8" y1="533.6" x2="860.8" y2="543.8" stroke="#000" stroke-width="1.7"/>
<text x="860.8" y="572" text-anchor="middle" class="tl">144</text>
<line x1="918.4" y1="533.6" x2="918.4" y2="543.8" stroke="#000" stroke-width="1.7"/>
<text x="918.4" y="572" text-anchor="middle" class="tl">156</text>
<line x1="976.1" y1="533.6" x2="976.1" y2="543.8" stroke="#000" stroke-width="1.7"/>
<text x="976.1" y="572" text-anchor="middle" class="tl">168</text>
<line x1="1033.8" y1="533.6" x2="1033.8" y2="543.8" stroke="#000" stroke-width="1.7"/>
<text x="1033.8" y="572" text-anchor="middle" class="tl">180</text>
<line x1="1091.5" y1="533.6" x2="1091.5" y2="543.8" stroke="#000" stroke-width="1.7"/>
<text x="1091.5" y="572" text-anchor="middle" class="tl">192</text>
<text x="175" y="521" class="tl" style="font-size:22.6px">p : &lt;0,001</text>
<text x="633.5" y="614.4" text-anchor="middle" class="at">Temps (mois)</text>
<text transform="translate(56.3,358.4) rotate(-90)" class="at">Taux de survie</text>
<line x1="348.8" y1="649.6" x2="421.3" y2="649.6" stroke="#0d0b42" stroke-width="2.8"/>
<text x="429.8" y="657.0" class="lg">0-17 ans</text>
<line x1="542.4" y1="649.6" x2="614.9" y2="649.6" stroke="#6b872a" stroke-width="2.8"/>
<text x="623.4" y="657.0" class="lg">18-60 ans</text>
<line x1="735.8" y1="649.6" x2="808.3" y2="649.6" stroke="#1f57bd" stroke-width="2.8"/>
<text x="816.8" y="657.0" class="lg">61-70 ans</text>
<line x1="348.8" y1="676.3" x2="421.3" y2="676.3" stroke="#b79dd6" stroke-width="2.8"/>
<text x="429.8" y="683.7" class="lg">71-75 ans</text>
<line x1="542.4" y1="676.3" x2="614.9" y2="676.3" stroke="#36dedb" stroke-width="2.8"/>
<text x="623.4" y="683.7" class="lg">&gt;75 ans</text>
</svg>
<table>
<colgroup><col style="width:118px"><col style="width:125px"><col style="width:160px"><col style="width:160px"><col style="width:160px"><col style="width:160px"><col style="width:160px"></colgroup>
<tr class="hd"><th class="c0"><div class="agel">Age du<br>donneur</div></th><th class="r">N</th><th class="r">Survie à 1 an</th><th class="r">Survie à 3 ans</th><th class="r">Survie à 5 ans</th><th class="r">Survie à 10 ans</th><th class="r"><div class="v2"><div>Médiane de</div><div>survie (mois)</div></div></th></tr>
<tr class="dr"><td class="c0 b">0-17 ans</td><td class="r">1612</td><td class="r"><div class="v2"><div>94,7%</div><div>[93,5% - 95,7%]</div></div></td><td class="r"><div class="v2"><div>91,6%</div><div>[90,1% - 92,9%]</div></div></td><td class="r"><div class="v2"><div>88,4%</div><div>[86,7% - 90,0%]</div></div></td><td class="r"><div class="v2"><div>76,8%</div><div>[74,1% - 79,2%]</div></div></td><td class="r"><div class="one">NO</div></td></tr>
<tr class="rr"><td class="c0 top"><div class="risk">nombre de<br>sujets à<br>risque*</div></td><td></td><td class="r">1448</td><td class="r">1244</td><td class="r">1070</td><td class="r">533</td><td></td></tr>
<tr class="dr"><td class="c0 b">18-60 ans</td><td class="r">32610</td><td class="r"><div class="v2"><div>94,4%</div><div>[94,2% - 94,7%]</div></div></td><td class="r"><div class="v2"><div>89,8%</div><div>[89,5% - 90,1%]</div></div></td><td class="r"><div class="v2"><div>84,3%</div><div>[83,9% - 84,8%]</div></div></td><td class="r"><div class="v2"><div>67,6%</div><div>[67,0% - 68,3%]</div></div></td><td class="r"><div class="v2"><div>178,2</div><div>[175,1 - 181,9]</div></div></td></tr>
<tr class="rr"><td class="c0 top"><div class="risk">nombre de<br>sujets à<br>risque*</div></td><td></td><td class="r">29608</td><td class="r">24442</td><td class="r">19809</td><td class="r">8760</td><td></td></tr>
<tr class="dr"><td class="c0 b">61-70 ans</td><td class="r">11174</td><td class="r"><div class="v2"><div>89,9%</div><div>[89,4% - 90,5%]</div></div></td><td class="r"><div class="v2"><div>82,0%</div><div>[81,2% - 82,7%]</div></div></td><td class="r"><div class="v2"><div>72,4%</div><div>[71,5% - 73,3%]</div></div></td><td class="r"><div class="v2"><div>47,1%</div><div>[45,8% - 48,3%]</div></div></td><td class="r"><div class="v2"><div>112,6</div><div>[109,9 - 115,4]</div></div></td></tr>
<tr class="rr"><td class="c0 top"><div class="risk">nombre de<br>sujets à<br>risque*</div></td><td></td><td class="r">9591</td><td class="r">7414</td><td class="r">5539</td><td class="r">1901</td><td></td></tr>
<tr class="dr"><td class="c0 b">71-75 ans</td><td class="r">4150</td><td class="r"><div class="v2"><div>85,4%</div><div>[84,3% - 86,5%]</div></div></td><td class="r"><div class="v2"><div>74,8%</div><div>[73,4% - 76,1%]</div></div></td><td class="r"><div class="v2"><div>62,2%</div><div>[60,6% - 63,8%]</div></div></td><td class="r"><div class="v2"><div>30,8%</div><div>[28,9% - 32,8%]</div></div></td><td class="r"><div class="v2"><div>81,9</div><div>[78,2 - 85,1]</div></div></td></tr>
<tr class="rr"><td class="c0 top"><div class="risk">nombre de<br>sujets à<br>risque*</div></td><td></td><td class="r">3380</td><td class="r">2445</td><td class="r">1711</td><td class="r">454</td><td></td></tr>
<tr class="dr"><td class="c0 b">&gt;75 ans</td><td class="r">5190</td><td class="r"><div class="v2"><div>82,0%</div><div>[81,0% - 83,1%]</div></div></td><td class="r"><div class="v2"><div>66,4%</div><div>[65,0% - 67,7%]</div></div></td><td class="r"><div class="v2"><div>51,1%</div><div>[49,6% - 52,6%]</div></div></td><td class="r"><div class="v2"><div>21,3%</div><div>[19,8% - 22,8%]</div></div></td><td class="r"><div class="v2"><div>62,0</div><div>[59,4 - 64,4]</div></div></td></tr>
<tr class="rr"><td class="c0 top"><div class="risk">nombre de<br>sujets à<br>risque*</div></td><td></td><td class="r">4051</td><td class="r">2806</td><td class="r">1861</td><td class="r">379</td><td></td></tr>
</table>
<div class="notes"><div class="nl" style="top:1510.05px;left:21.5px;transform:scaleX(0.9228)">[] : Intervalle de confiance</div><div class="nl" style="top:1538.95px;left:21.3px;transform:scaleX(0.9347)">NO : non observable</div><div class="nl" style="top:1567.95px;left:21.1px;transform:scaleX(0.9330)">* : Nombre de malades restant à observer pour chaque temps et pour lesquels aucun évènement n'est survenu</div><div class="nl" style="top:1596.95px;left:21.4px;transform:scaleX(0.9596)">Données extraites de CRISTAL le 25/02/2025</div></div>
</body></html>
